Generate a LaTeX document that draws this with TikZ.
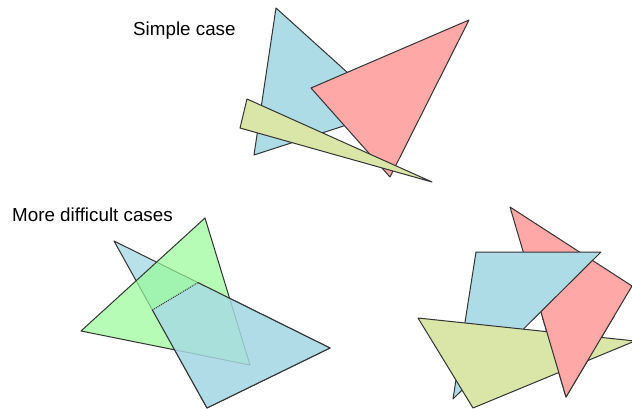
\documentclass[tikz,border=0pt]{standalone}
\usepackage{fontspec}
\setmainfont{Liberation Sans}
\definecolor{tblue}{HTML}{ADDCE6}
\definecolor{tred}{HTML}{FFA8A8}
\definecolor{tolive}{HTML}{D9E6A8}
\definecolor{tgreen}{HTML}{98FB98}
\definecolor{edge}{HTML}{333333}
\tikzset{
  tri/.style={draw=edge, line width=1pt, line join=round},
  lbl/.style={anchor=base west, inner sep=0pt, font=\fontsize{18.8}{22}\selectfont}
}
\begin{document}
\begin{tikzpicture}[x=1pt,y=-1pt]
\useasboundingbox (0,0) rectangle (632,409);
\clip (0,0) rectangle (632,409);
\fill[white] (0,0) rectangle (632,409);
% labels
\node[lbl] (simple) at (133,36) {Simple case};
\node[lbl] (difficult) at (12,221) {More difficult cases};
% ---- simple case ----
\draw[tri, fill=tblue] (276,8) -- (254,155) -- (390,111) -- cycle;
\draw[tri, fill=tred] (469,20) -- (311,88) -- (390,177) -- cycle;
\draw[tri, fill=tolive] (247,99) -- (240,128) -- (432,182) -- cycle;
% ---- lower left: piercing triangles ----
\coordinate (A) at (114,241);
\coordinate (B) at (330,348);
\coordinate (C) at (207,408);
\coordinate (P1) at (152.4,310);
\coordinate (P2) at (198,282.6);
\draw[tri, fill=tblue, fill opacity=0.85] (A) -- (B) -- (C) -- cycle;
\draw[tri, fill=tgreen, fill opacity=0.7] (205,218) -- (81,331) -- (250,365) -- cycle;
\fill[tblue, fill opacity=0.82] (P1) -- (C) -- (B) -- (P2) -- cycle;
\draw[tri] (P1) -- (C) -- (B) -- (P2);
\draw[edge, line width=1pt, densely dotted] (P1) -- (P2);
% ---- lower right: cyclic overlap ----
\draw[tri, fill=tred] (510,207) -- (632,286) -- (566,397) -- cycle;
\draw[tri, fill=tblue] (476,252) -- (601,252) -- (453,399) -- cycle;
\draw[tri, fill=tolive] (418,318) -- (473,408) -- (635,341) -- cycle;
\begin{scope}
  \clip (400,316) rectangle (640,420);
  \draw[tri, fill=tred] (510,207) -- (632,286) -- (566,397) -- cycle;
\end{scope}
\end{tikzpicture}
\end{document}
